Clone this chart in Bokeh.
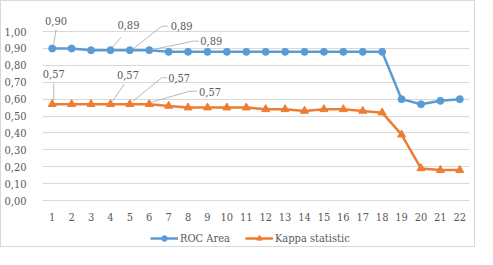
from bokeh.plotting import figure
from bokeh.models import (Range1d, FixedTicker, CustomJSTickFormatter, Legend,
                          LegendItem, ColumnDataSource)
from bokeh.core.properties import value
from bokeh.embed import file_html
from bokeh.resources import INLINE

# ---- data ----
categories = list(range(1, 23))
roc_area = [0.90, 0.90, 0.89, 0.89, 0.89, 0.89, 0.88, 0.88, 0.88, 0.88, 0.88,
            0.88, 0.88, 0.88, 0.88, 0.88, 0.88, 0.88, 0.60, 0.57, 0.59, 0.60]
kappa = [0.57, 0.57, 0.57, 0.57, 0.57, 0.57, 0.56, 0.55, 0.55, 0.55, 0.55,
         0.54, 0.54, 0.53, 0.54, 0.54, 0.53, 0.52, 0.39, 0.19, 0.18, 0.18]
y_ticks = [0.0, 0.1, 0.2, 0.3, 0.4, 0.5, 0.6, 0.7, 0.8, 0.9, 1.0]
series_names = ["ROC Area", "Kappa statistic"]

# ---- style ----
FONT = "DejaVu Serif Condensed"
FSIZE = "11px"
TXT = "#595959"
BLUE = "#5B9BD5"
ORANGE = "#ED7D31"
GRID = "#D9D9D9"
LEAD = "#A6A6A6"

W, H = 475, 247
ML, MR = 33, 7
FW = W - ML - MR
X0, X1 = 0.5, 22.5
YS = 168.9                # px per y unit
Y_END = 199 / YS          # frame top above 1.00
Y_START = -(H - 199) / YS # room below 0 for tick labels and legend
XS = FW / (X1 - X0)       # px per x unit

p = figure(width=W, height=H, output_backend="svg", toolbar_location=None,
           x_range=Range1d(X0, X1), y_range=Range1d(Y_START, Y_END),
           min_border_left=ML, min_border_right=MR, min_border_top=0,
           min_border_bottom=0)
p.styles = {"border": "1px solid #D9D9D9"}
p.outline_line_color = None
p.background_fill_color = "white"
p.border_fill_color = "white"

xa = p.xaxis[0]
xa.fixed_location = 0
xa.ticker = FixedTicker(ticks=categories)
xa.axis_line_color = GRID
xa.major_tick_line_color = None
xa.minor_tick_line_color = None
xa.major_label_standoff = 6
xa.major_label_text_font = FONT
xa.major_label_text_font_size = FSIZE
xa.major_label_text_color = TXT

ya = p.yaxis[0]
ya.ticker = FixedTicker(ticks=y_ticks)
ya.formatter = CustomJSTickFormatter(code="return tick.toFixed(2).replace('.', ',');")
ya.axis_line_color = None
ya.major_tick_line_color = None
ya.minor_tick_line_color = None
ya.major_label_standoff = 10
ya.major_label_text_font = FONT
ya.major_label_text_font_size = FSIZE
ya.major_label_text_color = TXT

p.xgrid.grid_line_color = None
p.ygrid.ticker = FixedTicker(ticks=y_ticks)
p.ygrid.grid_line_color = GRID

# ---- series ----
r1l = p.line(categories, roc_area, line_color=BLUE, line_width=2.5)
r1m = p.scatter(categories, roc_area, marker="circle", size=7,
                fill_color=BLUE, line_color=BLUE)
r2l = p.line(categories, kappa, line_color=ORANGE, line_width=2.5)
r2m = p.scatter(categories, kappa, marker="triangle", size=8,
                fill_color=ORANGE, line_color=ORANGE)

# ---- data labels with leader lines (offsets in pixels) ----
label_layout = [
    (roc_area, 0, 3.8, -27.0, [(1.5, -4), (4, -19)]),
    (roc_area, 3, 18.0, -25.6, [(2, -3), (11, -13)]),
    (roc_area, 4, 51.8, -24.0, [(3, -1), (32.6, -24), (38.5, -24)]),
    (roc_area, 5, 62.0, -9.0, [(3, -0.5), (44.5, -9), (50.5, -9)]),
    (kappa, 0, 1.6, -30.7, [(1.6, -4), (1.6, -21)]),
    (kappa, 3, 17.5, -29.5, [(2.3, -3), (14, -20.3)]),
    (kappa, 4, 49.3, -26.0, [(3, -3), (32.6, -26.5), (38, -26.5)]),
    (kappa, 5, 60.8, -12.3, [(2, -2), (41.2, -13), (48.8, -13)]),
]
tx, ty, tt, txo, tyo, lxs, lys = [], [], [], [], [], [], []
for vals, i, dx, dy, path in label_layout:
    cx, cy = categories[i], vals[i]
    tx.append(cx)
    ty.append(cy)
    tt.append(f"{vals[i]:.2f}".replace(".", ","))
    txo.append(dx)
    tyo.append(dy)
    lxs.append([cx + a / XS for a, b in path])
    lys.append([cy - b / YS for a, b in path])

p.multi_line(lxs, lys, line_color=LEAD, line_width=0.8)
src = ColumnDataSource(dict(x=tx, y=ty, t=tt, xo=txo, yo=tyo))
p.text("x", "y", text="t", x_offset="xo", y_offset="yo", source=src,
       text_align="center", text_baseline="middle",
       text_font=value(FONT), text_font_size=FSIZE, text_color=TXT)

# ---- legend ----
legend = Legend(items=[LegendItem(label=series_names[0], renderers=[r1l, r1m]),
                       LegendItem(label=series_names[1], renderers=[r2l, r2m])],
                location=(108, 3), orientation="horizontal",
                glyph_width=28, glyph_height=14, label_height=14,
                label_standoff=2, spacing=15, padding=0, margin=0,
                border_line_color=None, background_fill_alpha=0,
                label_text_font=FONT, label_text_font_size=FSIZE,
                label_text_color=TXT)
p.add_layout(legend)

open("out.html", "w").write(file_html(p, INLINE))
